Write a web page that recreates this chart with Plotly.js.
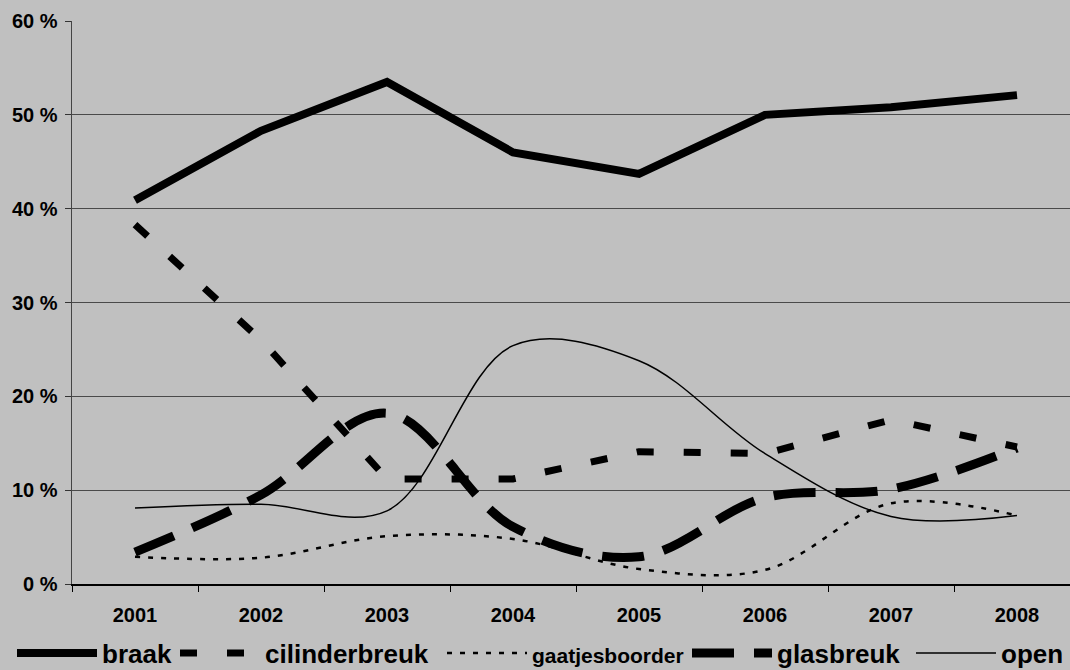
<!DOCTYPE html>
<html>
<head>
<meta charset="utf-8">
<script src="https://cdn.plot.ly/plotly-3.0.1.min.js"></script>
<style>html,body{margin:0;padding:0;background:#c0c0c0;}#chart{width:1070px;height:670px;}</style>
</head>
<body>
<div id="chart"></div>
<script>
const years = ['2001','2002','2003','2004','2005','2006','2007','2008'];
const braak = [40.9, 48.3, 53.5, 46.0, 43.7, 50.0, 50.8, 52.1];
const cilinderbreuk = [38.3, 26.0, 11.2, 11.2, 14.1, 13.9, 17.5, 14.6];
const gaatjesboorder = [2.9, 2.8, 5.1, 4.8, 1.6, 1.5, 8.6, 7.3];
const glasbreuk = [3.4, 9.5, 18.2, 6.1, 2.9, 9.2, 10.1, 14.5];
const open = [8.1, 8.5, 7.8, 25.4, 23.8, 13.9, 7.2, 7.3];
const yTicks = [0, 10, 20, 30, 40, 50, 60];
const yTickText = ['0 %', '10 %', '20 %', '30 %', '40 %', '50 %', '60 %'];

const traces = [
  {name: 'braak', legend: 'legend', x: years, y: braak, mode: 'lines', line: {color: '#000', width: 8}},
  {name: 'cilinderbreuk', legend: 'legend2', x: years, y: cilinderbreuk, mode: 'lines', line: {color: '#000', width: 7, dash: '17px,30px'}},
  {name: '<span style="font-size:21px">gaatjesboorder</span>', legend: 'legend3', x: years, y: gaatjesboorder, mode: 'lines', line: {color: '#000', width: 2.5, dash: '5px,8px', shape: 'spline', smoothing: 1}},
  {name: 'glasbreuk', legend: 'legend4', x: years, y: glasbreuk, mode: 'lines', line: {color: '#000', width: 9, dash: '42px,20px', shape: 'spline', smoothing: 1}},
  {name: 'open', legend: 'legend5', x: years, y: open, mode: 'lines', line: {color: '#000', width: 1.5, shape: 'spline', smoothing: 1}}
];

function leg(xpx) {
  return {orientation: 'h', xref: 'container', yref: 'container', x: xpx / 1070, y: (670 - 653) / 670,
          xanchor: 'left', yanchor: 'middle', font: {size: 26, weight: 700}, itemwidth: 80,
          bgcolor: 'rgba(0,0,0,0)', borderwidth: 0};
}

const layout = {
  width: 1070, height: 670,
  paper_bgcolor: '#c0c0c0', plot_bgcolor: '#c0c0c0',
  margin: {l: 72, r: 0, t: 21, b: 86},
  font: {family: 'Liberation Sans, Arial, sans-serif', color: '#000', size: 20, weight: 700},
  showlegend: true,
  legend: leg(12), legend2: leg(175), legend3: leg(442), legend4: leg(687), legend5: leg(911),
  xaxis: {type: 'category', range: [-0.5, 7.4206], tickson: 'boundaries', ticks: 'outside', ticklen: 6, tickcolor: '#000',
          showline: true, linecolor: '#000', linewidth: 1.5, showgrid: false, zeroline: false,
          tickfont: {size: 20, weight: 700}, ticklabelstandoff: 12, fixedrange: true},
  yaxis: {range: [0, 60], tickvals: yTicks, ticktext: yTickText, ticks: 'outside', ticklen: 6, tickcolor: '#333',
          showline: true, linecolor: '#444', linewidth: 1.5, showgrid: true, gridcolor: '#4a4a4a', gridwidth: 1,
          zeroline: false, tickfont: {size: 20, weight: 700}, ticklabelstandoff: 3, fixedrange: true}
};

Plotly.newPlot('chart', traces, layout, {displayModeBar: false, staticPlot: true});
</script>
</body>
</html>
